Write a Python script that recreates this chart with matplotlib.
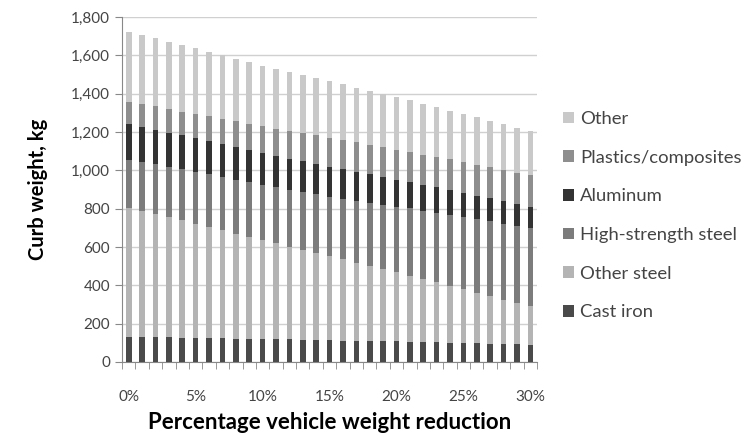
import matplotlib.pyplot as plt
import numpy as np

# Curb weight by material at each level of vehicle weight reduction (kg)
reduction = list(range(0, 31))
cast_iron = [130, 130, 129, 128, 127, 126, 125, 124, 122, 121, 120, 119, 118, 116, 115, 113,
             112, 111, 110, 108, 107, 106, 104, 103, 101, 100, 98, 96, 94, 92, 90]
other_steel = [675, 660, 645, 628, 612, 596, 580, 565, 548, 532, 516, 500, 484, 470, 455, 440,
               425, 408, 392, 376, 360, 345, 328, 312, 296, 280, 264, 248, 232, 216, 200]
hss = [250, 254, 258, 262, 266, 270, 274, 278, 282, 286, 290, 294, 298, 302, 306, 310,
       316, 323, 330, 336, 343, 350, 356, 363, 370, 376, 383, 390, 396, 403, 410]
aluminum = [185, 183, 181, 179, 177, 175, 173, 171, 169, 166, 164, 162, 161, 160, 158, 157,
            154, 151, 148, 145, 142, 139, 136, 133, 130, 127, 123, 120, 117, 113, 110]
plastics = [116, 118, 121, 123, 125, 128, 130, 132, 135, 137, 139, 142, 144, 146, 149, 151,
            152, 153, 154, 155, 156, 157, 158, 159, 160, 160, 161, 162, 163, 164, 165]
other = [364, 359, 355, 350, 345, 341, 336, 331, 327, 322, 317, 313, 308, 303, 299, 294,
         290, 286, 281, 277, 273, 268, 264, 260, 255, 251, 247, 242, 238, 233, 229]

series = [
    ("Cast iron", cast_iron, "#4a4a4a"),
    ("Other steel", other_steel, "#b4b4b4"),
    ("High-strength steel", hss, "#7c7c7c"),
    ("Aluminum", aluminum, "#333333"),
    ("Plastics/composites", plastics, "#8e8e8e"),
    ("Other", other, "#c9c9c9"),
]

plt.rcParams['font.family'] = ['Lato', 'DejaVu Sans']

fig = plt.figure(figsize=(7.51, 4.42), dpi=100)
ax = fig.add_axes([0.1625, 0.181, 0.5526, 0.7805])

x = np.arange(len(reduction))
bottom = np.zeros(len(reduction))
handles = []
for name, vals, col in series:
    h = ax.bar(x, vals, width=0.42, bottom=bottom, color=col, label=name, zorder=3)
    handles.append(h)
    bottom += np.array(vals)

ax.set_xlim(-0.5, len(reduction) - 0.5)
ax.set_ylim(0, 1800)
ax.set_yticks(range(0, 1801, 200))
ax.set_yticklabels([f"{v:,}" for v in range(0, 1801, 200)])
ax.yaxis.grid(True, color="#d0d0d0", linewidth=1, zorder=0)

major = [i for i in x if reduction[i] % 5 == 0]
ax.set_xticks(major)
ax.set_xticklabels([f"{reduction[i]}%" for i in major])
ax.set_xticks(np.arange(-0.5, len(reduction)), minor=True)
ax.tick_params(axis="x", which="major", length=0, pad=20, labelsize=11, colors="#444444")
ax.tick_params(axis="x", which="minor", length=5, color="#888888", direction="out")
ax.tick_params(axis="y", length=5, color="#888888", labelsize=11, colors="#444444")

for s in ["top", "right"]:
    ax.spines[s].set_visible(False)
ax.spines["left"].set_color("#888888")
ax.spines["bottom"].set_color("#888888")

ax.set_xlabel("Percentage vehicle weight reduction", fontsize=16, fontweight="bold", labelpad=6)
ax.set_ylabel("Curb weight, kg", fontsize=14.5, fontweight="bold", labelpad=17)

ax.legend(handles[::-1], [s[0] for s in series][::-1], loc="center left",
          bbox_to_anchor=(0.727, 0.512), bbox_transform=fig.transFigure,
          frameon=False, handlelength=0.6, handleheight=0.6, handletextpad=0.35,
          labelspacing=1.23, fontsize=13.3, labelcolor="#444444")

fig.savefig("out.png", dpi=100)
